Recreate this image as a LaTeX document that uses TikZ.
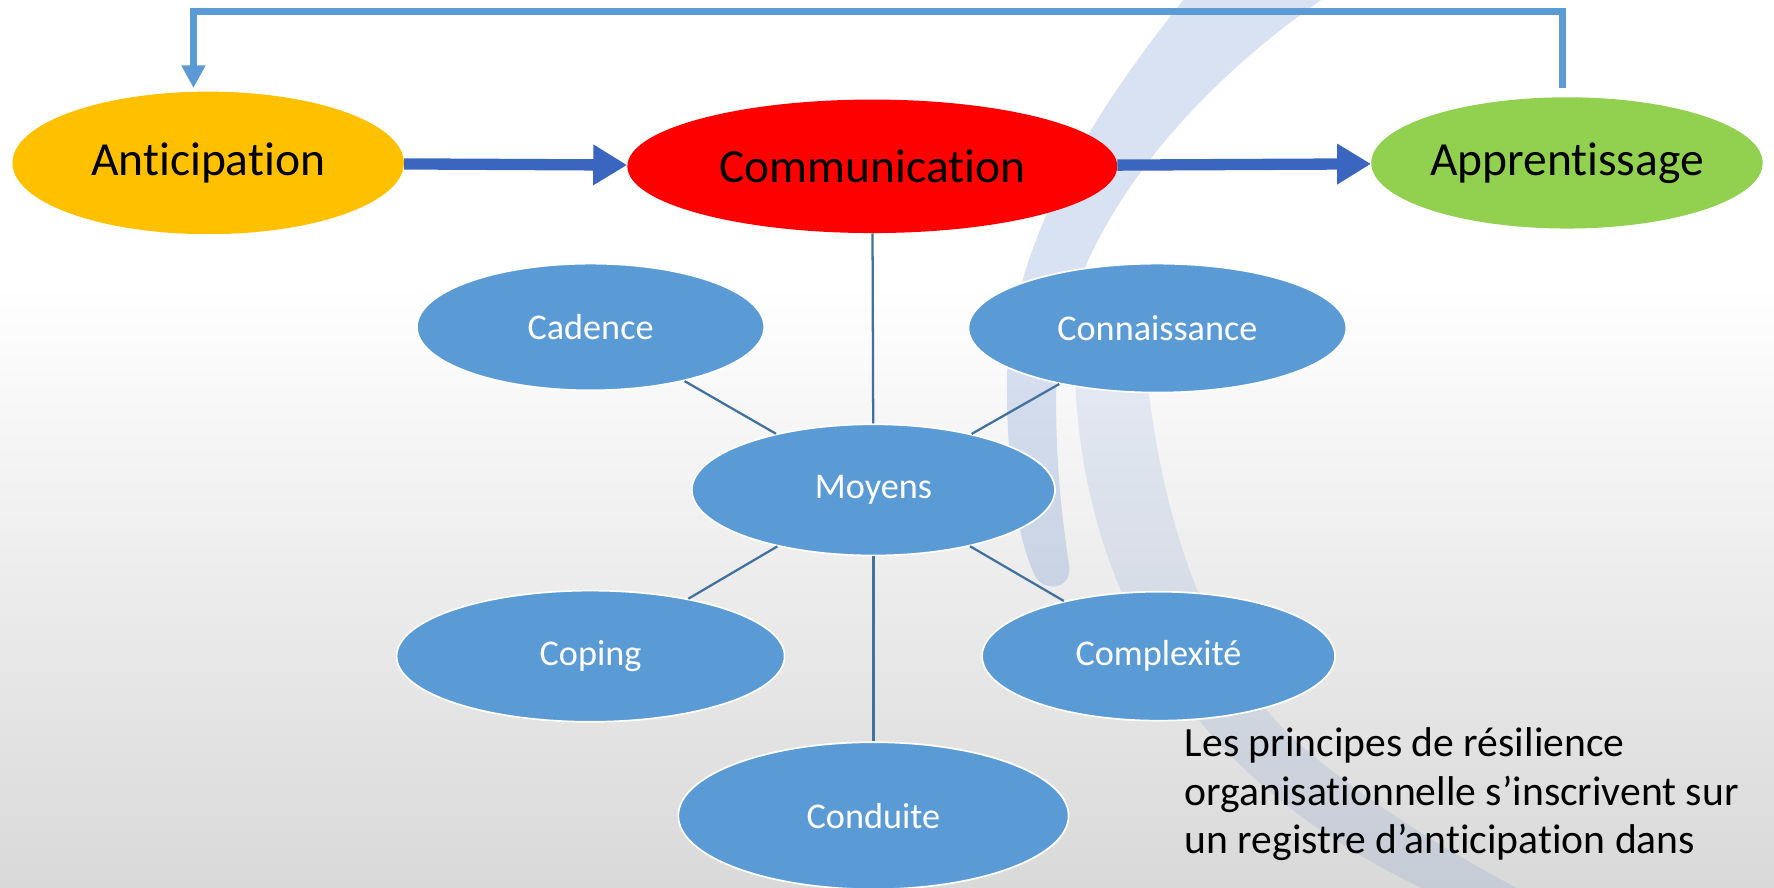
\documentclass[tikz,border=0pt]{standalone}
\usepackage{fontspec}
\setmainfont{Carlito}[Ligatures=NoCommon]
\usetikzlibrary{shapes.geometric,arrows.meta}
\definecolor{bluefill}{HTML}{5B9BD5}
\definecolor{linec}{HTML}{41719C}
\definecolor{arrowc}{HTML}{3A66BF}
\definecolor{fbc}{HTML}{5B9BD5}
\definecolor{orangec}{HTML}{FFC000}
\definecolor{greenc}{HTML}{92D050}
\definecolor{swc}{HTML}{4472C4}
\definecolor{bgbot}{HTML}{D9D9D9}
\begin{document}
\begin{tikzpicture}[x=1pt,y=-1pt,
  mainell/.style={ellipse, inner sep=0pt, font=\fontsize{42}{50}\selectfont, text=black},
  subell/.style={ellipse, inner sep=0pt, fill=bluefill, draw=white, line width=1.5pt, text=white, font=\fontsize{32}{38}\selectfont},
  link/.style={draw=linec, line width=2pt},
  bigarrow/.style={draw=arrowc, line width=10pt, -{Triangle[length=30pt,width=34pt]}},
  fb/.style={draw=fbc, line width=6.5pt, -{Triangle[length=20pt,width=20pt]}}
]
\useasboundingbox (0,0) rectangle (1568,784);
\clip (0,0) rectangle (1568,784);
% background
\fill[white] (0,0) rectangle (1568,250);
\shade[top color=white, bottom color=bgbot] (0,250) rectangle (1568,784);
% decorative swooshes
\fill[swc, opacity=0.2] (1050,-5) .. controls (965,100) and (890,220) .. (890,340) .. controls (890,420) and (900,475) .. (913,505) .. controls (920,525) and (948,522) .. (945,500) .. controls (936,440) and (932,390) .. (934,324) .. controls (950,200) and (1050,80) .. (1175,-5) -- cycle;
\fill[swc, opacity=0.12] (950,290) .. controls (945,450) and (1000,580) .. (1090,670) .. controls (1150,730) and (1220,770) .. (1290,800) -- (1370,800) .. controls (1290,760) and (1200,705) .. (1140,650) .. controls (1060,570) and (1020,440) .. (1010,290) -- cycle;
% nodes
\node[mainell, fill=orangec, minimum width=346pt, minimum height=126pt] (antic) at (184,144) {Anticipation};
\node[mainell, fill=red, minimum width=433pt, minimum height=118pt] (comm) at (771,147) {Communication};
\node[mainell, fill=greenc, minimum width=346pt, minimum height=116pt] (appr) at (1385,144) {Apprentissage};
\node[subell, minimum width=307pt, minimum height=112pt] (cad) at (522,289) {Cadence};
\node[subell, minimum width=334pt, minimum height=114pt] (conn) at (1023,290) {Connaissance};
\node[subell, minimum width=321pt, minimum height=116pt] (moy) at (772,433) {Moyens};
\node[subell, minimum width=343pt, minimum height=116pt] (cop) at (522,580) {Coping};
\node[subell, minimum width=312pt, minimum height=114pt] (cplx) at (1024,580) {Complexité};
\node[subell, minimum width=345pt, minimum height=130pt] (cond) at (772,721) {Conduite};
% links
\draw[link] (comm) -- (moy);
\draw[link] (cad) -- (moy);
\draw[link] (conn) -- (moy);
\draw[link] (cop) -- (moy);
\draw[link] (cplx) -- (moy);
\draw[link] (moy) -- (cond);
% arrows
\draw[bigarrow] (antic) -- (comm);
\draw[bigarrow] (comm) -- (appr);
\draw[fb] ([xshift=-4pt,yshift=8pt]appr.north) |- (171,10) -- ([xshift=-13pt,yshift=3pt]antic.north);
% text
\node[anchor=north west, inner sep=0pt, align=left, text=black, font=\fontsize{36.8}{43}\selectfont] (txt) at (1047,643) {Les principes de résilience\\organisationnelle s’inscrivent sur\\un registre d’anticipation dans};
\end{tikzpicture}
\end{document}
